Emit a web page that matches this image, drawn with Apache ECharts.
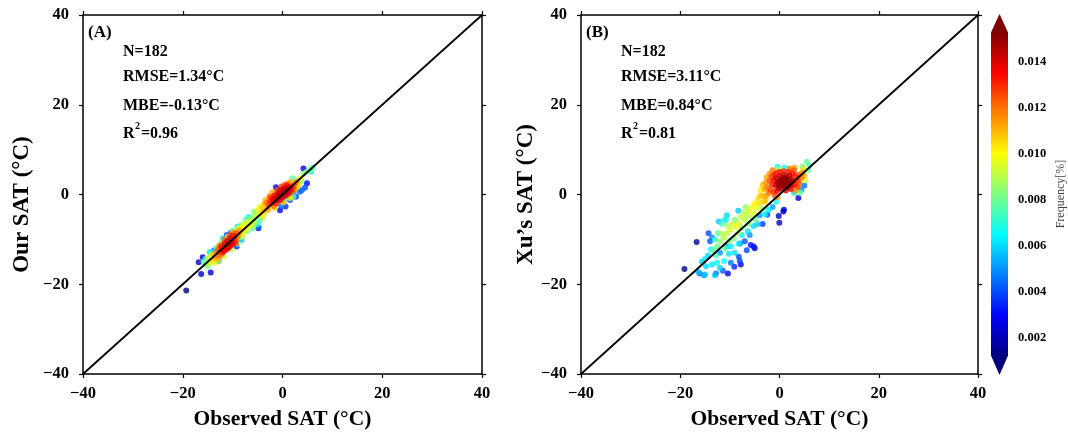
<!DOCTYPE html>
<html>
<head>
<meta charset="utf-8">
<script src="https://cdn.jsdelivr.net/npm/echarts@6/dist/echarts.min.js"></script>
<style>
html,body{margin:0;padding:0;background:#fff;}
#chart{width:1068px;height:433px;}
</style>
</head>
<body>
<div id="chart"></div>
<script>
// ---------------- DATA ----------------
const AXIS_TICKS = [-40, -20, 0, 20, 40];
const CB_MIN = 0.0012;
const CB_MAX = 0.0153;
const CB_TICKS = [0.002, 0.004, 0.006, 0.008, 0.010, 0.012, 0.014];
const IDENTITY = [[-40, -40], [40, 40]];
const JET = ['#00007F', '#0000FF', '#007FFF', '#00FFFF', '#7FFF7F', '#FFFF00', '#FF7F00', '#FF0000', '#7F0000'];

const STATS_A = ['N=182', 'RMSE=1.34°C', 'MBE=-0.13°C', '=0.96'];
const STATS_B = ['N=182', 'RMSE=3.11°C', 'MBE=0.84°C', '=0.81'];

// [observed, estimated, frequency]
const POINTS_A = [
[-2.8,-2.2,0.0125],[-2.5,-1.6,0.013],[-2.2,-2.0,0.013],[-2.0,-1.0,0.0135],[-1.8,-1.5,0.0138],[-1.5,-0.8,0.014],[-1.3,-1.3,0.014],[-1.0,-0.5,0.0142],[-0.8,-0.9,0.0145],[-0.6,0.0,0.0145],
[-0.4,-0.4,0.0146],[-0.2,0.3,0.0146],[0.0,0.0,0.0147],[0.2,0.6,0.0147],[0.4,0.2,0.0146],[0.6,0.9,0.0145],[0.8,0.5,0.0144],[1.0,1.2,0.0142],[1.2,0.8,0.014],[1.4,1.5,0.0138],
[1.6,1.1,0.0135],[1.8,1.8,0.013],[2.0,1.4,0.0128],[2.3,2.0,0.0125],[-1.6,-0.2,0.0137],[-0.9,0.4,0.014],[-0.3,1.0,0.0142],[0.3,1.4,0.0141],[0.9,1.9,0.0136],[-2.4,-0.8,0.0128],
[-1.2,-2.0,0.0132],[-0.5,-1.3,0.0138],[0.1,-0.6,0.014],[0.7,-0.2,0.0138],[1.3,0.2,0.0134],[-3.2,-1.8,0.0118],[-3.0,-2.8,0.0115],[2.6,2.6,0.012],[0.5,2.2,0.0125],[-1.0,1.0,0.0126],
[-4.0,-3.0,0.0108],[-3.6,-2.0,0.011],[-4.3,-4.0,0.0105],[-3.5,-3.6,0.011],[3.0,3.0,0.0112],[2.8,1.5,0.0108],[3.2,2.2,0.0105],[-2.0,0.5,0.0112],[1.5,2.8,0.011],[-1.5,-3.0,0.0105],
[0.2,-1.8,0.0108],[1.5,-0.8,0.0102],[3.6,3.6,0.0098],[-4.8,-3.3,0.0098],[-5.0,-4.6,0.0095],
[4.2,4.6,0.0085],[4.8,5.0,0.008],[5.5,5.5,0.0078],[6.0,6.0,0.0075],[5.8,5.0,0.0072],[3.8,3.0,0.0082],[2.2,-0.5,0.0075],[2.0,3.6,0.0078],[-5.5,-5.0,0.009],[-5.8,-3.8,0.0085],
[-6.0,-6.0,0.0092],[-4.0,-5.2,0.0088],
[-1.3,1.6,0.0025],[-0.5,-3.5,0.003],[0.6,-2.7,0.0035],[1.5,-1.2,0.004],[2.7,-0.5,0.0038],[3.5,0.6,0.0042],[4.2,5.8,0.0028],[4.9,2.5,0.003],[3.9,1.0,0.0045],[2.2,0.3,0.005],
[1.2,-0.5,0.0055],[0.2,-1.6,0.0052],[4.5,1.5,0.004],[-0.2,-2.6,0.0045],
[-6.5,-6.2,0.0095],[-6.8,-7.0,0.0098],[-7.0,-6.0,0.009],[-7.3,-7.4,0.0102],[-7.6,-6.6,0.0095],[-7.8,-8.0,0.0105],[-8.0,-7.2,0.01],[-6.2,-6.8,0.0092],[-5.6,-6.2,0.0088],[-7.4,-5.6,0.0075],
[-6.4,-5.2,0.008],[-5.0,-6.6,0.007],[-8.4,-6.8,0.0082],[-6.0,-7.5,0.0078],[-8.6,-8.8,0.0108],[-7.0,-8.2,0.0085],[-5.4,-4.2,0.0078],[-4.6,-5.8,0.0075],[-4.8,-7.3,0.0045],[-6.8,-5.0,0.0065],
[-8.9,-7.6,0.0095],[-5.8,-7.0,0.0085],
[-9.0,-9.2,0.012],[-9.3,-8.6,0.0125],[-9.6,-9.8,0.013],[-9.9,-9.2,0.0135],[-10.2,-10.4,0.014],[-10.5,-9.8,0.0142],[-10.8,-11.0,0.0144],[-11.1,-10.4,0.0143],[-11.4,-11.5,0.0142],[-11.7,-11.0,0.014],
[-12.0,-12.2,0.0136],[-12.3,-11.6,0.0132],[-12.6,-12.8,0.0128],[-12.9,-12.2,0.0124],[-13.2,-13.4,0.012],[-10.0,-11.0,0.0135],[-11.0,-12.0,0.0136],[-12.0,-13.0,0.013],[-9.5,-10.6,0.0128],[-10.6,-9.0,0.0125],
[-11.6,-10.0,0.0122],[-12.6,-11.3,0.0118],[-13.5,-14.0,0.0115],[-13.0,-14.4,0.0112],[-13.8,-13.2,0.011],[-8.6,-8.0,0.0115],[-9.2,-10.0,0.0118],[-10.8,-11.8,0.014],[-11.8,-12.6,0.0138],[-9.8,-8.4,0.0115],
[-14.0,-14.6,0.0105],[-14.3,-13.6,0.0098],[-14.6,-15.2,0.0095],[-14.9,-14.2,0.009],[-15.2,-15.6,0.0085],[-15.0,-16.0,0.008],[-13.6,-15.2,0.0095],[-12.2,-10.6,0.0085],[-13.2,-11.8,0.008],[-11.0,-9.4,0.009],
[-10.0,-8.0,0.0082],[-9.0,-11.0,0.008],[-8.2,-9.6,0.0085],[-10.2,-12.2,0.009],[-11.8,-13.8,0.0095],[-15.8,-15.0,0.0075],[-14.6,-12.8,0.007],[-12.8,-14.8,0.0088],[-8.0,-9.0,0.0095],[-15.4,-14.4,0.0078],
[-19.3,-21.4,0.0012],[-16.8,-15.1,0.002],[-16.0,-14.0,0.0025],[-16.3,-17.7,0.0022],[-14.4,-17.4,0.0025],[-12.8,-14.8,0.0045],[-13.7,-12.4,0.0048],[-11.2,-9.0,0.004],[-10.4,-8.5,0.0045],[-9.2,-11.6,0.0035],
[-8.2,-10.1,0.0055],[-4.85,-7.5,0.003],[-14.5,-13.0,0.0058],[-9.0,-7.2,0.006],[-12.0,-9.8,0.006],
[-2.6,-0.4,0.0118],[-3.4,-1.2,0.011],[-1.8,-2.6,0.012],[1.8,0.6,0.0125],[2.4,1.0,0.0115],[-0.2,1.8,0.0128],[1.1,2.4,0.012],[-2.9,-3.4,0.0112],[-3.8,-4.6,0.0102],[-4.4,-2.6,0.0095],
[-9.4,-10.8,0.0125],[-10.4,-11.4,0.0138],[-11.3,-12.3,0.0135],[-12.5,-13.6,0.0122]
];

const POINTS_B = [
[0.0,2.0,0.0148],[0.4,2.6,0.015],[0.8,3.0,0.0152],[1.2,2.4,0.0151],[1.6,3.2,0.015],[0.6,3.6,0.0149],[1.0,1.8,0.0149],[1.9,2.6,0.0148],[0.2,3.2,0.0148],[-0.4,2.8,0.0146],
[1.4,3.8,0.0147],[2.2,3.4,0.0146],[-0.2,1.4,0.0145],[2.4,2.2,0.0145],[0.5,1.2,0.0146],[1.7,1.6,0.0146],[-0.6,3.6,0.0143],[0.9,4.3,0.0144],[2.0,4.2,0.0143],[-0.8,2.0,0.0142],
[2.7,3.0,0.0142],[1.3,0.9,0.0142],[0.1,4.0,0.0142],[-0.3,2.4,0.0147],[1.1,3.4,0.0152],[0.7,2.2,0.0151],[1.8,2.0,0.0147],[2.3,1.2,0.0138],
[-1.2,3.2,0.0135],[-1.5,2.2,0.013],[-1.0,4.4,0.0132],[-1.8,1.0,0.0125],[-2.0,3.0,0.0125],[-2.4,1.6,0.012],[-2.8,2.6,0.0115],[-2.2,0.4,0.0118],[-1.2,0.6,0.0128],[-0.5,0.8,0.0135],
[-1.6,4.0,0.0126],[0.0,5.0,0.0132],[0.8,5.2,0.013],[1.8,5.0,0.0132],[2.6,4.6,0.0134],[3.2,4.0,0.0132],[3.0,2.2,0.0135],[3.5,3.2,0.013],[3.8,4.4,0.0125],[4.0,2.8,0.0122],
[4.4,3.8,0.012],[2.9,5.4,0.0125],[-0.6,4.8,0.013],[-2.6,-0.2,0.0112],[-3.0,1.2,0.0112],[-3.2,-0.4,0.011],[-1.0,-0.2,0.0122],[3.6,1.6,0.0125],[4.6,4.8,0.0115],[5.0,4.2,0.011],
[-3.4,2.2,0.0108],[2.0,5.8,0.0118],[-2.0,4.6,0.0115],[-0.4,-0.6,0.0115],[3.2,0.8,0.0115],
[-4.3,-1.0,0.0105],[-5.0,-2.0,0.0102],[-4.6,-3.0,0.0098],[-5.6,-2.8,0.0098],[-6.1,-3.6,0.0095],[-5.2,-4.2,0.0095],[-6.6,-4.6,0.0092],[-7.2,-4.0,0.009],[-7.0,-5.6,0.009],[-7.8,-5.0,0.0092],
[-8.2,-6.4,0.0095],[-8.8,-7.2,0.0098],[-9.4,-6.6,0.0092],[-9.9,-7.9,0.0095],[-10.4,-7.0,0.009],[-10.6,-8.6,0.0092],[-11.2,-9.6,0.009],[-11.6,-8.8,0.0088],[-3.8,-0.2,0.0108],[-4.0,-2.0,0.0105],
[-3.0,-1.6,0.0108],[-8.4,-8.6,0.0088],
[-6.2,-6.6,0.0082],[-5.6,-5.2,0.0085],[-4.8,-5.6,0.0078],[-7.6,-7.4,0.0085],[-9.2,-9.8,0.0082],[-10.2,-10.4,0.0085],[-12.0,-10.4,0.0085],[-12.6,-11.6,0.008],[-13.3,-12.4,0.0078],[-12.8,-13.6,0.0075],
[-11.0,-12.0,0.0078],[-11.6,-6.6,0.0075],[-10.8,-5.6,0.007],[-3.4,-3.2,0.0085],[5.5,7.3,0.0078],[6.0,6.5,0.0075],[5.8,5.4,0.0082],[4.6,6.2,0.0082],[-0.2,5.6,0.0088],[4.2,0.4,0.008],
[-11.0,-5.7,0.0062],[-10.6,-4.6,0.006],[-8.3,-3.6,0.0058],[-12.2,-6.0,0.0058],[-13.8,-12.2,0.0065],[-14.4,-13.6,0.006],[-15.0,-14.4,0.0062],[-15.6,-15.0,0.0058],[-14.8,-16.0,0.006],[-13.6,-15.6,0.0062],
[-12.6,-15.2,0.0065],[-12.0,-16.4,0.0058],[-11.2,-14.8,0.0065],[-10.2,-13.2,0.0062],[-9.0,-13.0,0.006],[-9.8,-11.6,0.0065],[-8.2,-11.0,0.0063],[-7.6,-9.0,0.0065],[-6.4,-8.2,0.0062],[-5.2,-7.0,0.006],
[-4.4,-6.6,0.0058],[-3.0,-4.4,0.0065],[-2.2,-3.4,0.0062],[-0.6,-1.6,0.0068],[2.9,0.4,0.0062],[-15.0,-17.8,0.0058],[-16.4,-17.2,0.0056],[-13.0,-18.0,0.0056],[-0.4,6.2,0.0066],[1.0,6.0,0.0068],
[-16.1,-17.6,0.0045],[-15.2,-18.0,0.0048],[-14.3,-8.65,0.004],[-14.0,-10.4,0.0042],[-12.8,-17.6,0.0045],[-11.4,-17.0,0.0042],[-9.1,-16.1,0.0035],[-8.2,-13.85,0.004],[-8.0,-14.8,0.0038],[-7.95,-10.9,0.0045],
[-7.0,-10.4,0.0042],[-6.6,-12.4,0.004],[-5.8,-11.25,0.0032],[-5.2,-11.6,0.0032],[-3.4,-6.6,0.0038],[-2.45,-4.5,0.0042],[-4.0,-4.6,0.005],[5.0,2.0,0.0045],[4.4,1.0,0.0048],[-12.0,-13.0,0.005],
[-10.6,-11.6,0.0052],[-6.0,-9.0,0.005],[-13.6,-9.6,0.0048],[-9.8,-15.2,0.0046],[-1.4,-2.8,0.0052],
[-19.15,-16.6,0.0014],[-16.7,-10.6,0.0016],[-0.15,-4.8,0.0022],[-0.04,-6.3,0.002],[0.77,-3.8,0.0022],[0.9,-3.4,0.0024],[3.8,-0.8,0.0022],[-10.4,-17.6,0.0028],[-7.8,-15.6,0.0026],[-5.0,-12.0,0.0025],
[-1.4,5.4,0.0118],[3.0,6.0,0.0112],[4.8,5.6,0.0105],[-2.6,3.8,0.0112],[-3.8,1.0,0.0102],[-2.8,-1.2,0.0108],[3.9,2.0,0.0118],[-6.8,-2.8,0.0085],[-9.0,-5.6,0.0082],[-12.4,-8.6,0.0078],
[-13.0,-10.0,0.0072],[5.2,3.2,0.0095]
];

// ---------------- CHART ----------------
const FONT = '"Liberation Serif", "Times New Roman", serif';
const byFreq = (a, b) => a[2] - b[2];
const sortedA = POINTS_A.slice().sort(byFreq);
const sortedB = POINTS_B.slice().sort(byFreq);
const minus = v => String(v).replace('-', '\u2212');

const chart = echarts.init(document.getElementById('chart'), null, {renderer: 'canvas'});

const GRIDS = [
  {left: 83, top: 15, width: 399, height: 359, outerBoundsMode: 'none', containLabel: false},
  {left: 581, top: 15, width: 397, height: 359, outerBoundsMode: 'none', containLabel: false},
  {left: 991, top: 32, width: 17, height: 324, outerBoundsMode: 'none', containLabel: false}
];

function mainX(gi, pos, labels, name) {
  return {
    gridIndex: gi, type: 'value', position: pos, min: -40, max: 40, interval: 20,
    axisLine: {show: true, onZero: false, lineStyle: {color: '#000', width: 1.5}},
    axisTick: {show: true, inside: false, length: 4, lineStyle: {color: '#000', width: 1.2}},
    axisLabel: {show: labels, margin: 11, color: '#000', fontFamily: FONT, fontWeight: 'bold', fontSize: 16.5, formatter: minus},
    splitLine: {show: false},
    name: name || '', nameLocation: 'middle', nameGap: 34,
    nameTextStyle: {color: '#000', fontFamily: FONT, fontWeight: 'bold', fontSize: 21.5}
  };
}
function mainY(gi, pos, labels, name, gap, pad) {
  return {
    gridIndex: gi, type: 'value', position: pos, min: -40, max: 40, interval: 20,
    axisLine: {show: true, onZero: false, lineStyle: {color: '#000', width: 1.5}},
    axisTick: {show: true, inside: false, length: 4, lineStyle: {color: '#000', width: 1.2}},
    axisLabel: {show: labels, margin: 14, color: '#000', fontFamily: FONT, fontWeight: 'bold', fontSize: 16.5, formatter: minus},
    splitLine: {show: false},
    name: name || '', nameLocation: 'middle', nameGap: gap || 40, nameRotate: 90,
    nameTextStyle: {color: '#000', fontFamily: FONT, fontWeight: 'bold', fontSize: 23, padding: pad || 0}
  };
}

function statsText(stats, left) {
  const ys = [44, 69, 98, 126];
  const out = stats.slice(0, 3).map((t, i) => ({
    type: 'text', left: left, top: ys[i], z: 10,
    style: {text: t, fill: '#000', font: 'bold 16px ' + FONT}
  }));
  out.push({type: 'text', left: left, top: ys[3], z: 10, style: {text: 'R', fill: '#000', font: 'bold 16px ' + FONT}});
  out.push({type: 'text', left: left + 12, top: ys[3] - 5, z: 10, style: {text: '2', fill: '#000', font: 'bold 10px ' + FONT}});
  out.push({type: 'text', left: left + 18, top: ys[3], z: 10, style: {text: stats[3], fill: '#000', font: 'bold 16px ' + FONT}});
  return out;
}

const option = {
  backgroundColor: '#fff',
  animation: false,
  grid: GRIDS,
  xAxis: [
    mainX(0, 'bottom', true, 'Observed SAT (°C)'),
    mainX(0, 'top', false),
    mainX(1, 'bottom', true, 'Observed SAT (°C)'),
    mainX(1, 'top', false),
    {gridIndex: 2, type: 'value', min: 0, max: 1, show: false}
  ],
  yAxis: [
    mainY(0, 'left', true, 'Our SAT (°C)', 49, [0, 20, 0, 0]),
    mainY(0, 'right', false),
    mainY(1, 'left', true, 'Xu\u2019s SAT (°C)', 43, 0),
    mainY(1, 'right', false),
    {
      gridIndex: 2, type: 'value', position: 'right', min: CB_MIN, max: CB_MAX,
      axisLine: {show: false},
      axisTick: {show: true, length: 3, customValues: CB_TICKS, lineStyle: {color: '#000', width: 1}},
      axisLabel: {show: true, margin: 10, customValues: CB_TICKS, color: '#000', fontFamily: FONT, fontWeight: 'bold', fontSize: 12.5,
        formatter: v => Number(v).toFixed(3)},
      splitLine: {show: false},
      name: 'Frequency[%]', nameLocation: 'middle', nameGap: 47, nameRotate: 90,
      nameTextStyle: {color: '#444', fontFamily: FONT, fontSize: 12}
    }
  ],
  visualMap: {
    type: 'continuous', show: false, seriesIndex: [0, 2], dimension: 2,
    min: CB_MIN, max: CB_MAX, inRange: {color: JET}
  },
  series: [
    {type: 'scatter', xAxisIndex: 0, yAxisIndex: 0, data: sortedA, symbolSize: 6, z: 2, silent: true},
    {type: 'line', xAxisIndex: 0, yAxisIndex: 0, data: IDENTITY, showSymbol: false, z: 3, silent: true,
      lineStyle: {color: '#000', width: 1.8}},
    {type: 'scatter', xAxisIndex: 2, yAxisIndex: 2, data: sortedB, symbolSize: 6, z: 2, silent: true},
    {type: 'line', xAxisIndex: 2, yAxisIndex: 2, data: IDENTITY, showSymbol: false, z: 3, silent: true,
      lineStyle: {color: '#000', width: 1.8}},
    {
      type: 'custom', xAxisIndex: 4, yAxisIndex: 4, silent: true, clip: false,
      data: [[0, CB_MIN, CB_MAX]],
      renderItem: function (params, api) {
        const tl = api.coord([0, api.value(2)]);
        const br = api.coord([1, api.value(1)]);
        const w = br[0] - tl[0], h = br[1] - tl[1];
        const cx = tl[0] + w / 2;
        return {
          type: 'group',
          children: [
            {type: 'rect', shape: {x: tl[0], y: tl[1], width: w, height: h},
              style: {fill: new echarts.graphic.LinearGradient(0, 1, 0, 0,
                JET.map((c, i) => ({offset: i / (JET.length - 1), color: c})))}},
            {type: 'polygon', shape: {points: [[tl[0], tl[1] + 0.5], [br[0], tl[1] + 0.5], [cx, tl[1] - 18]]},
              style: {fill: JET[JET.length - 1]}},
            {type: 'polygon', shape: {points: [[tl[0], br[1] - 0.5], [br[0], br[1] - 0.5], [cx, br[1] + 19]]},
              style: {fill: JET[0]}}
          ]
        };
      }
    }
  ],
  graphic: [
    {type: 'text', left: 88, top: 24, z: 10, style: {text: '(A)', fill: '#000', font: 'bold 17px ' + FONT}},
    {type: 'text', left: 586, top: 24, z: 10, style: {text: '(B)', fill: '#000', font: 'bold 17px ' + FONT}}
  ].concat(statsText(STATS_A, 123), statsText(STATS_B, 621))
};

chart.setOption(option);
</script>
</body>
</html>
